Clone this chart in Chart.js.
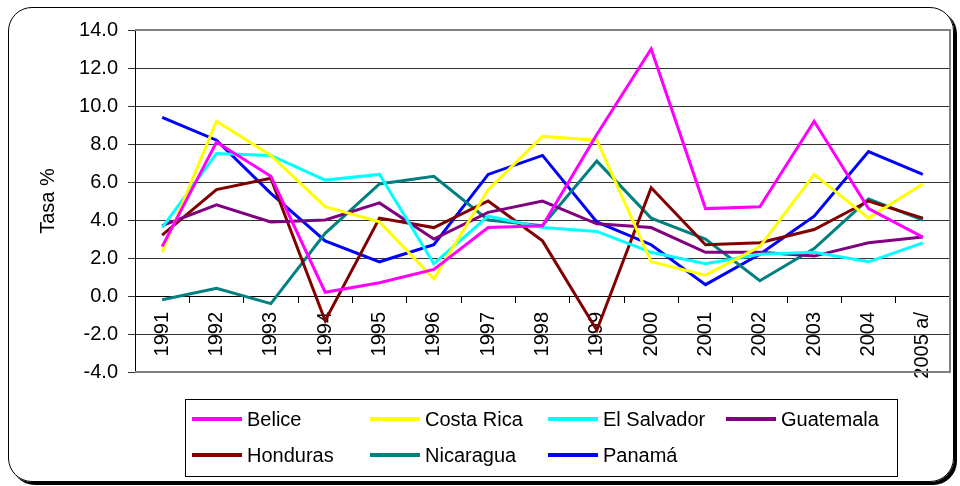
<!DOCTYPE html>
<html>
<head>
<meta charset="utf-8">
<script src="https://cdn.jsdelivr.net/npm/chart.js@4/dist/chart.umd.min.js"></script>
<style>
  body { margin: 0; background: #fff; font-family: "Liberation Sans", Arial, sans-serif; }
  #wrap { position: relative; width: 960px; height: 486px; }
  #frame {
    position: absolute; left: 8px; top: 7px; width: 944px; height: 473px;
    border: 1px solid #000; border-radius: 24px; box-shadow: 3px 3px 0 #000;
  }
  canvas { position: absolute; left: 0; top: 0; }
  #legend {
    position: absolute; left: 185px; top: 399px; width: 711px; height: 76px;
    border: 1px solid #000; box-sizing: content-box;
  }
  .item { position: absolute; height: 24px; display: flex; align-items: center; font-size: 20px; color: #000; }
  .item span.swatch { display: inline-block; width: 50px; height: 4px; margin-right: 5px; }
</style>
</head>
<body>
<div id="wrap">
  <div id="frame"></div>
  <canvas id="chart" width="960" height="486"></canvas>
  <div id="legend"></div>
</div>
<script>
// Categories and series (tasa %)
const years = ['1991', '1992', '1993', '1994', '1995', '1996', '1997', '1998', '1999', '2000', '2001', '2002', '2003', '2004', '2005 a/'];

const belice     = [2.6, 8.1, 6.3, 0.2, 0.7, 1.4, 3.6, 3.7, 8.5, 13.0, 4.6, 4.7, 9.2, 4.6, 3.1];
const costaRica  = [2.3, 9.2, 7.4, 4.7, 3.9, 0.9, 5.6, 8.4, 8.2, 1.8, 1.1, 2.6, 6.4, 4.1, 5.9];
const elSalvador = [3.6, 7.5, 7.4, 6.1, 6.4, 1.7, 4.2, 3.6, 3.4, 2.3, 1.7, 2.2, 2.3, 1.8, 2.8];
const guatemala  = [3.7, 4.8, 3.9, 4.0, 4.9, 3.0, 4.4, 5.0, 3.8, 3.6, 2.3, 2.3, 2.1, 2.8, 3.1];
const honduras   = [3.2, 5.6, 6.2, -1.3, 4.1, 3.6, 5.0, 2.9, -1.8, 5.7, 2.7, 2.8, 3.5, 5.0, 4.1];
const nicaragua  = [-0.2, 0.4, -0.4, 3.3, 5.9, 6.3, 4.0, 3.7, 7.1, 4.1, 3.0, 0.8, 2.5, 5.1, 4.0];
const panama     = [9.4, 8.2, 5.4, 2.9, 1.8, 2.7, 6.4, 7.4, 3.9, 2.7, 0.6, 2.2, 4.2, 7.6, 6.4];

const yTicks = [-4, -2, 0, 2, 4, 6, 8, 10, 12, 14];

function series(label, data, color) {
  return {
    label: label,
    data: data,
    borderColor: color,
    backgroundColor: color,
    borderWidth: 3,
    pointRadius: 0,
    tension: 0,
    fill: false
  };
}

// gray border around the plot area (top and right edges, bottom at -4)
const plotBorder = {
  id: 'plotBorder',
  beforeDatasetsDraw(chart) {
    const a = chart.chartArea;
    const c = chart.ctx;
    c.save();
    c.strokeStyle = '#808080';
    c.lineWidth = 2;
    c.beginPath();
    c.moveTo(a.left, a.top);
    c.lineTo(a.right, a.top);
    c.lineTo(a.right, a.bottom);
    c.lineTo(a.left, a.bottom);
    c.stroke();
    c.restore();
  }
};

const font = { family: 'Liberation Sans', size: 20 };

const chart = new Chart(document.getElementById('chart'), {
  type: 'line',
  data: {
    labels: years,
    datasets: [
      series('Belice', belice, '#ff00ff'),
      series('Costa Rica', costaRica, '#ffff00'),
      series('El Salvador', elSalvador, '#00ffff'),
      series('Guatemala', guatemala, '#800080'),
      series('Honduras', honduras, '#800000'),
      series('Nicaragua', nicaragua, '#008080'),
      series('Panamá', panama, '#0000ff')
    ]
  },
  options: {
    responsive: false,
    animation: false,
    layout: { padding: { top: 30, right: 10, bottom: 114, left: 0 } },
    plugins: {
      legend: { display: false },
      tooltip: { enabled: false }
    },
    scales: {
      x: {
        type: 'category',
        position: { y: 0 },
        offset: true,
        grid: {
          display: true,
          drawOnChartArea: false,
          offset: true,
          tickLength: 6,
          color: '#000'
        },
        border: { display: true, color: '#000', width: 1 },
        ticks: {
          autoSkip: false,
          maxRotation: 90,
          minRotation: 90,
          padding: 10,
          color: '#000',
          font: font
        }
      },
      y: {
        min: -4,
        max: 14,
        afterFit(scale) { scale.width = 135; },
        afterBuildTicks(scale) { scale.ticks = yTicks.map(v => ({ value: v })); },
        grid: {
          color: '#333',
          lineWidth: 1,
          tickLength: 7
        },
        border: { display: true, color: '#000', width: 1 },
        ticks: {
          padding: 10,
          color: '#000',
          font: font,
          callback: v => v.toFixed(1)
        },
        title: {
          display: true,
          text: 'Tasa %',
          color: '#000',
          font: font,
          padding: { top: 36, bottom: 0 }
        }
      }
    }
  },
  plugins: [plotBorder]
});

// legend in 4 columns, built from the datasets
const legend = document.getElementById('legend');
chart.data.datasets.forEach((ds, i) => {
  const col = i % 4;
  const row = Math.floor(i / 4);
  const el = document.createElement('div');
  el.className = 'item';
  el.style.left = (6 + col * 178) + 'px';
  el.style.top = (7 + row * 36) + 'px';
  el.innerHTML = '<span class="swatch" style="background:' + ds.borderColor + '"></span>' + ds.label;
  legend.appendChild(el);
});
</script>
</body>
</html>
